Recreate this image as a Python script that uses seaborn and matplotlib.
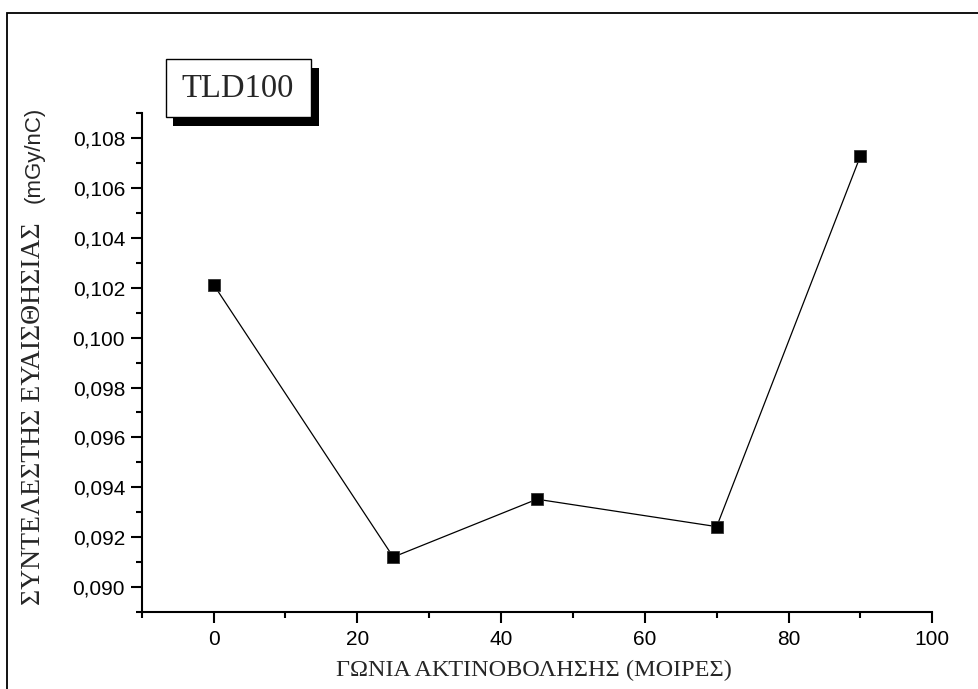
import matplotlib
matplotlib.use("Agg")
import matplotlib.pyplot as plt
from matplotlib.patches import Rectangle
from matplotlib.ticker import MultipleLocator, FuncFormatter
import seaborn as sns
import pandas as pd

angles = [0, 25, 45, 70, 90]
sensitivity = [0.10213, 0.0912, 0.09352, 0.09242, 0.10729]
x_label = "ΓΩΝΙΑ ΑΚΤΙΝΟΒΟΛΗΣΗΣ (ΜΟΙΡΕΣ)"
y_label_greek = "ΣΥΝΤΕΛΕΣΤΗΣ ΕΥΑΙΣΘΗΣΙΑΣ"
y_label_unit = "(mGy/nC)"
box_label = "TLD100"

sns.set_style("ticks")
plt.rcParams["font.family"] = ["Liberation Sans", "DejaVu Sans"]

W, H = 979, 689
fig = plt.figure(figsize=(W / 100, H / 100), dpi=100)
ax = fig.add_axes([141.7 / W, 1 - 611.9 / H, (932.3 - 141.7) / W, (611.9 - 113.3) / H])

df = pd.DataFrame({"angle": angles, "value": sensitivity})
sns.lineplot(data=df, x="angle", y="value", ax=ax, color="black", linewidth=0.9,
             marker="s", markersize=8.5, markerfacecolor="black",
             markeredgecolor="#333333", markeredgewidth=0.6)

ax.set_xlim(-10, 100)
ax.set_ylim(0.089, 0.109)
ax.xaxis.set_major_locator(MultipleLocator(20))
ax.xaxis.set_minor_locator(MultipleLocator(10))
ax.yaxis.set_major_locator(MultipleLocator(0.002))
ax.yaxis.set_minor_locator(MultipleLocator(0.001))
ax.yaxis.set_major_formatter(FuncFormatter(lambda v, p: f"{v:.3f}".replace(".", ",")))
ax.xaxis.set_major_formatter(FuncFormatter(lambda v, p: f"{v:.0f}"))

for s in ["top", "right"]:
    ax.spines[s].set_visible(False)
for s in ["left", "bottom"]:
    ax.spines[s].set_linewidth(1.5)
    ax.spines[s].set_color("black")

ax.tick_params(axis="both", which="major", direction="out", length=8, width=1.5,
               labelsize=15, color="black", labelcolor="black")
ax.tick_params(axis="both", which="minor", direction="out", length=4.5, width=1.5, color="black")
ax.tick_params(axis="x", which="major", pad=5)
ax.tick_params(axis="y", which="major", pad=4)

ax.set_xlabel("")
ax.set_ylabel("")

# x label (serif)
fig.text(534 / W, 1 - 670 / H, x_label, family=["Liberation Serif", "DejaVu Serif"],
         fontsize=17.5, ha="center", va="center")

# y label in two fonts
fig.text(34 / W, 1 - 605 / H, y_label_greek, family=["Liberation Serif", "DejaVu Serif"],
         fontsize=20, rotation=90, rotation_mode="anchor", ha="left", va="center")
fig.text(34 / W, 1 - 107 / H, y_label_unit, family=["Liberation Sans", "DejaVu Sans"],
         fontsize=16, rotation=90, rotation_mode="anchor", ha="right", va="center")

# TLD100 box with shadow
fig.add_artist(Rectangle((173.3 / W, 1 - 126 / H), (319.3 - 173.3) / W, (126 - 68.3) / H,
                         transform=fig.transFigure, facecolor="black", edgecolor="black", lw=0))
fig.add_artist(Rectangle((165.7 / W, 1 - 117.3 / H), (310.7 - 165.7) / W, (117.3 - 59.3) / H,
                         transform=fig.transFigure, facecolor="white", edgecolor="black", lw=1))
fig.text(238 / W, 1 - 88.5 / H, box_label, family=["Liberation Serif", "DejaVu Serif"],
         fontsize=23.5, ha="center", va="center")

# outer frame
fig.add_artist(Rectangle((7 / W, -0.1), 1.2, 1 - 12.7 / H + 0.1, transform=fig.transFigure,
                         fill=False, edgecolor="black", lw=1.3))

fig.savefig("out.png", dpi=100)
